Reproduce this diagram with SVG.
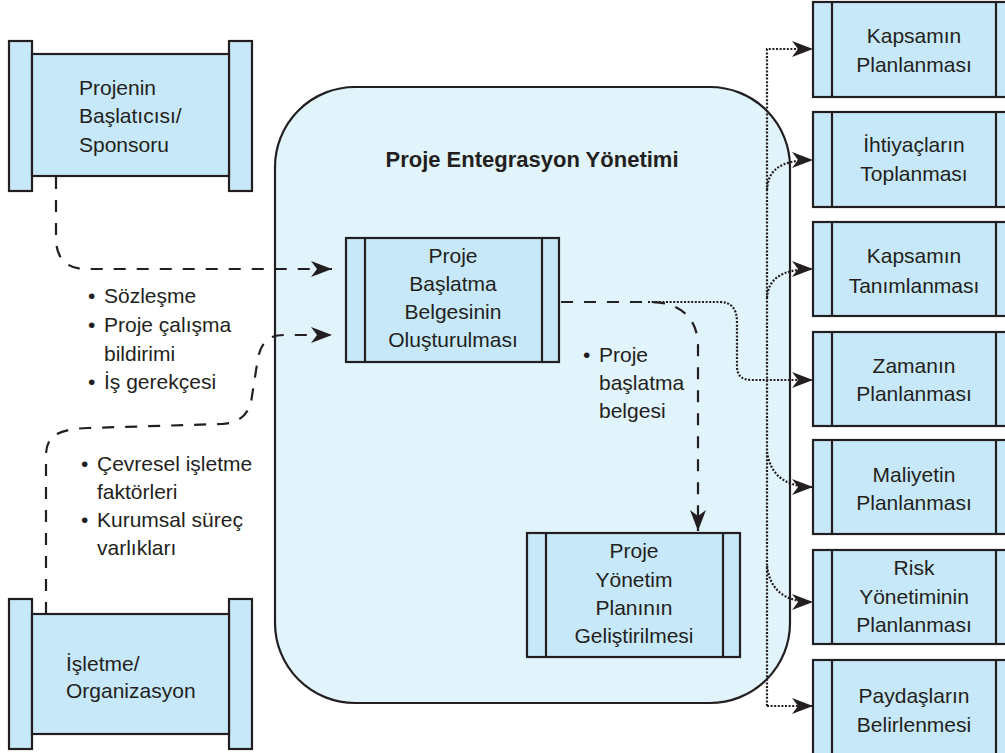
<svg xmlns="http://www.w3.org/2000/svg" width="1005" height="753" viewBox="0 0 1005 753">
  <defs>
    <style>
      .txt { font-family: "Liberation Sans", "Noto Sans", sans-serif; font-size: 21px; fill: #231f20; }
      .mid { text-anchor: middle; }
      .title { font-family: "Liberation Sans", "Noto Sans", sans-serif; font-size: 22px; font-weight: bold; fill: #231f20; text-anchor: middle; }
      .box { fill: #c7e8f8; stroke: #231f20; stroke-width: 2.2; }
      .frame { fill: #e1f3fb; stroke: #231f20; stroke-width: 2.2; }
      .div { stroke: #231f20; stroke-width: 2.2; fill: none; }
      .dash { fill: none; stroke: #231f20; stroke-width: 2.2; stroke-dasharray: 12 11; }
      .dot { fill: none; stroke: #231f20; stroke-width: 2.2; stroke-dasharray: 2 1.6; }
    </style>
    <marker id="ah" viewBox="0 0 22 16" refX="21" refY="8" markerWidth="22" markerHeight="16" orient="auto" markerUnits="userSpaceOnUse">
      <path d="M0,0 L21,8 L0,16 L6,8 Z" fill="#231f20"/>
    </marker>
  </defs>

  <rect width="1005" height="753" fill="#ffffff"/>

  <!-- integration management frame -->
  <g id="frame">
    <rect class="frame" x="275" y="87" width="515" height="616" rx="80" ry="80"/>
    <text class="title" x="532" y="167">Proje Entegrasyon Yönetimi</text>
  </g>

  <!-- sponsor scroll -->
  <g id="sponsor">
    <rect class="box" x="9" y="41" width="23" height="150"/>
    <rect class="box" x="229" y="41" width="23" height="150"/>
    <rect class="box" x="32" y="54" width="197" height="122"/>
    <text class="txt" x="79" y="95">Projenin</text>
    <text class="txt" x="79" y="123">Başlatıcısı/</text>
    <text class="txt" x="79" y="152">Sponsoru</text>
  </g>

  <!-- organisation scroll -->
  <g id="organization">
    <rect class="box" x="9" y="599" width="23" height="150"/>
    <rect class="box" x="229" y="599" width="23" height="150"/>
    <rect class="box" x="32" y="614" width="197" height="120"/>
    <text class="txt" x="66" y="671">İşletme/</text>
    <text class="txt" x="66" y="698">Organizasyon</text>
  </g>

  <!-- charter process -->
  <g id="charter">
    <rect class="box" x="346" y="238" width="213" height="124"/>
    <line class="div" x1="365" y1="238" x2="365" y2="362"/>
    <line class="div" x1="542" y1="238" x2="542" y2="362"/>
    <text class="txt mid" x="453" y="263">Proje</text>
    <text class="txt mid" x="453" y="291">Başlatma</text>
    <text class="txt mid" x="453" y="319">Belgesinin</text>
    <text class="txt mid" x="453" y="347">Oluşturulması</text>
  </g>

  <!-- plan process -->
  <g id="pmplan">
    <rect class="box" x="527" y="533" width="213" height="124"/>
    <line class="div" x1="546" y1="533" x2="546" y2="657"/>
    <line class="div" x1="723" y1="533" x2="723" y2="657"/>
    <text class="txt mid" x="634" y="558">Proje</text>
    <text class="txt mid" x="634" y="587">Yönetim</text>
    <text class="txt mid" x="634" y="615">Planının</text>
    <text class="txt mid" x="634" y="643">Geliştirilmesi</text>
  </g>

  <!-- downstream processes -->
  <g id="scope-plan">
    <rect class="box" x="813" y="2" width="205" height="95"/>
    <line class="div" x1="832" y1="2" x2="832" y2="97"/>
    <line class="div" x1="996" y1="2" x2="996" y2="97"/>
    <text class="txt mid" x="914" y="43">Kapsamın</text>
    <text class="txt mid" x="914" y="72">Planlanması</text>
  </g>
  <g id="requirements">
    <rect class="box" x="813" y="112" width="205" height="95"/>
    <line class="div" x1="832" y1="112" x2="832" y2="207"/>
    <line class="div" x1="996" y1="112" x2="996" y2="207"/>
    <text class="txt mid" x="914" y="152">İhtiyaçların</text>
    <text class="txt mid" x="914" y="181">Toplanması</text>
  </g>
  <g id="scope-define">
    <rect class="box" x="813" y="222" width="205" height="94"/>
    <line class="div" x1="832" y1="222" x2="832" y2="316"/>
    <line class="div" x1="996" y1="222" x2="996" y2="316"/>
    <text class="txt mid" x="914" y="263">Kapsamın</text>
    <text class="txt mid" x="914" y="293">Tanımlanması</text>
  </g>
  <g id="schedule">
    <rect class="box" x="813" y="332" width="205" height="94"/>
    <line class="div" x1="832" y1="332" x2="832" y2="426"/>
    <line class="div" x1="996" y1="332" x2="996" y2="426"/>
    <text class="txt mid" x="914" y="373">Zamanın</text>
    <text class="txt mid" x="914" y="401">Planlanması</text>
  </g>
  <g id="cost">
    <rect class="box" x="813" y="440" width="205" height="94"/>
    <line class="div" x1="832" y1="440" x2="832" y2="534"/>
    <line class="div" x1="996" y1="440" x2="996" y2="534"/>
    <text class="txt mid" x="914" y="482">Maliyetin</text>
    <text class="txt mid" x="914" y="510">Planlanması</text>
  </g>
  <g id="risk">
    <rect class="box" x="813" y="550" width="205" height="94"/>
    <line class="div" x1="832" y1="550" x2="832" y2="644"/>
    <line class="div" x1="996" y1="550" x2="996" y2="644"/>
    <text class="txt mid" x="914" y="575">Risk</text>
    <text class="txt mid" x="914" y="604">Yönetiminin</text>
    <text class="txt mid" x="914" y="632">Planlanması</text>
  </g>
  <g id="stakeholders">
    <rect class="box" x="813" y="660" width="205" height="100"/>
    <line class="div" x1="832" y1="660" x2="832" y2="760"/>
    <line class="div" x1="996" y1="660" x2="996" y2="760"/>
    <text class="txt mid" x="914" y="703">Paydaşların</text>
    <text class="txt mid" x="914" y="732">Belirlenmesi</text>
  </g>

  <!-- input / output lists -->
  <g id="labels" class="txt">
    <text x="88" y="303">•</text><text x="104" y="303">Sözleşme</text>
    <text x="88" y="332">•</text><text x="104" y="332">Proje çalışma</text>
    <text x="104" y="361">bildirimi</text>
    <text x="88" y="389">•</text><text x="104" y="389">İş gerekçesi</text>

    <text x="81" y="471">•</text><text x="97" y="471">Çevresel işletme</text>
    <text x="97" y="499">faktörleri</text>
    <text x="81" y="527">•</text><text x="97" y="527">Kurumsal süreç</text>
    <text x="97" y="555">varlıkları</text>

    <text x="583" y="362">•</text><text x="599" y="362">Proje</text>
    <text x="599" y="390">başlatma</text>
    <text x="599" y="418">belgesi</text>
  </g>

  <!-- connectors -->
  <g id="connectors">
    <path class="dash" d="M56 177 L56 238 C56 258 66 269 86 269 L332 269" marker-end="url(#ah)"/>
    <path class="dash" d="M46 614 L46 455 C46 436 58 429 88 428 L222 424 C242 423 250 412 252 396 L258 358 C261 343 268 335 284 335 L332 335" marker-end="url(#ah)"/>
    <path class="dash" d="M561 302 L650 302 C680 302 698 318 698 346 L698 531" marker-end="url(#ah)"/>

    <path class="dot" d="M648 302 L720 302 C732 302 737 310 737 322 L737 366 C737 376 742 380 752 380 L813 380" marker-end="url(#ah)"/>
    <path class="dot" d="M767 706 L767 49 L813 49" marker-end="url(#ah)"/>
    <path class="dot" d="M767 706 L813 706" marker-end="url(#ah)"/>
    <path class="dot" d="M767 190 C768 170 780 160 813 160" marker-end="url(#ah)"/>
    <path class="dot" d="M767 298 C768 280 780 269 813 269" marker-end="url(#ah)"/>
    <path class="dot" d="M767 452 C770 472 782 487 813 487" marker-end="url(#ah)"/>
    <path class="dot" d="M767 566 C770 588 782 602 813 602" marker-end="url(#ah)"/>
  </g>
</svg>
